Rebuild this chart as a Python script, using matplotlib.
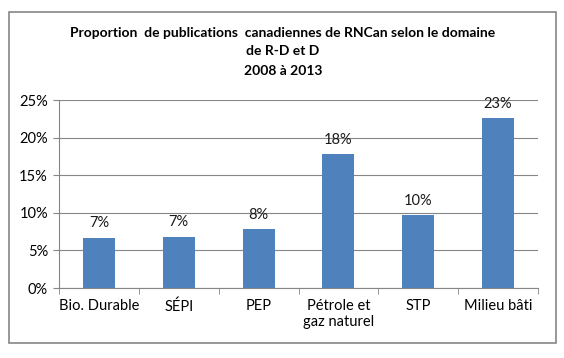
"""Proportion of RNCan Canadian publications by R&D domain, 2008-2013."""

import matplotlib
matplotlib.use("Agg")
import matplotlib.pyplot as plt
import matplotlib.patches as mpatches
from matplotlib.ticker import FuncFormatter, FixedLocator

categories = ["Bio. Durable", "SÉPI", "PEP", "Pétrole et\ngaz naturel", "STP", "Milieu bâti"]
shares = [6.65, 6.8, 7.8, 17.8, 9.7, 22.6]
labels = ["7%", "7%", "8%", "18%", "10%", "23%"]
y_ticks = [0, 5, 10, 15, 20, 25]

W, H = 564, 358
plt.rcParams["font.family"] = ["Lato", "DejaVu Sans"]

fig = plt.figure(figsize=(W / 100, H / 100), dpi=100)
ax = fig.add_axes([59 / W, 1 - 288 / H, (538 - 59) / W, (288 - 100) / H])

x = list(range(len(categories)))
ax.bar(x, shares, width=0.4, color="#4F81BD", zorder=3)
for xi, v, lab in zip(x, shares, labels):
    ax.text(xi, v + 1.0, lab, ha="center", va="bottom", fontsize=10.5, color="#1a1a1a")

ax.set_xlim(-0.5, len(categories) - 0.5)
ax.set_ylim(0, 25)
ax.yaxis.set_major_locator(FixedLocator(y_ticks))
ax.yaxis.set_major_formatter(FuncFormatter(lambda v, _: f"{v:.0f}%"))
ax.grid(axis="y", color="#868686", linewidth=0.8, zorder=0)

ax.set_xticks(x)
ax.set_xticklabels(categories, fontsize=10.5)
ax.set_xticks([i - 0.5 for i in range(len(categories) + 1)], minor=True)
ax.tick_params(axis="x", which="major", length=0, pad=8)
ax.tick_params(axis="x", which="minor", length=4, color="#868686", direction="out")
ax.tick_params(axis="y", length=4, color="#868686", labelsize=10.5, pad=4)

for side in ["top", "right"]:
    ax.spines[side].set_visible(False)
for side in ["left", "bottom"]:
    ax.spines[side].set_color("#868686")
    ax.spines[side].set_linewidth(0.8)

fig.text(283 / W, 1 - 33 / H, "Proportion  de publications  canadiennes de RNCan selon le domaine",
         ha="center", va="center", fontsize=10, fontweight="bold")
fig.text(283 / W, 1 - 51 / H, "de R-D et D", ha="center", va="center", fontsize=10, fontweight="bold")
fig.text(283 / W, 1 - 71 / H, "2008 à 2013", ha="center", va="center", fontsize=10, fontweight="bold")

border = mpatches.Rectangle((9 / W, 1 - 343 / H), (556 - 9) / W, (343 - 12) / H,
                            transform=fig.transFigure, fill=False, edgecolor="#868686", linewidth=1.2)
fig.patches.append(border)

fig.savefig("out.png", dpi=100)
